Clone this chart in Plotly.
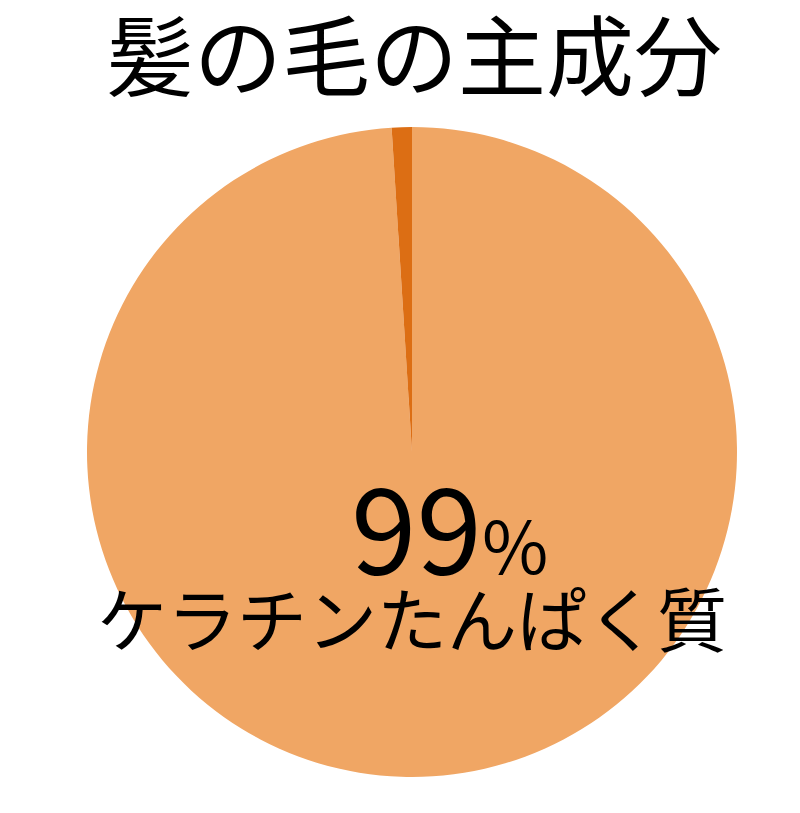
import plotly.graph_objects as go

title = "髪の毛の主成分"
labels = ["ケラチンたんぱく質", "その他"]
values = [99, 1]
colors = ["#F0A664", "#DC6E14"]
main_pct = "99"
main_label = "ケラチンたんぱく質"

W, H = 800, 813
font = "Noto Sans CJK JP"

fig = go.Figure(go.Pie(
    labels=labels, values=values, sort=False, direction="clockwise", rotation=0,
    marker=dict(colors=colors, line=dict(width=0)),
    textinfo="none", hoverinfo="label+percent",
    domain=dict(x=[(412-325)/W, (412+325)/W], y=[(H-777)/H, (H-127)/H]),
    showlegend=False,
))

fig.add_annotation(text=title, x=414/W, y=1-50/H, xref="paper", yref="paper",
                   showarrow=False, font=dict(family=font, size=88, color="black"),
                   xanchor="center", yanchor="middle")
fig.add_annotation(text=main_pct + "<span style='font-size:72px'>%</span>",
                   x=449/W, y=1-522/H, xref="paper", yref="paper",
                   showarrow=False, font=dict(family=font, size=118, color="black"),
                   xanchor="center", yanchor="middle")
fig.add_annotation(text=main_label, x=412/W, y=1-616/H, xref="paper", yref="paper",
                   showarrow=False, font=dict(family=font, size=70, color="black"),
                   xanchor="center", yanchor="middle")

fig.update_layout(width=W, height=H, margin=dict(l=0, r=0, t=0, b=0),
                  paper_bgcolor="white", plot_bgcolor="white")
fig.write_html("out.html")
